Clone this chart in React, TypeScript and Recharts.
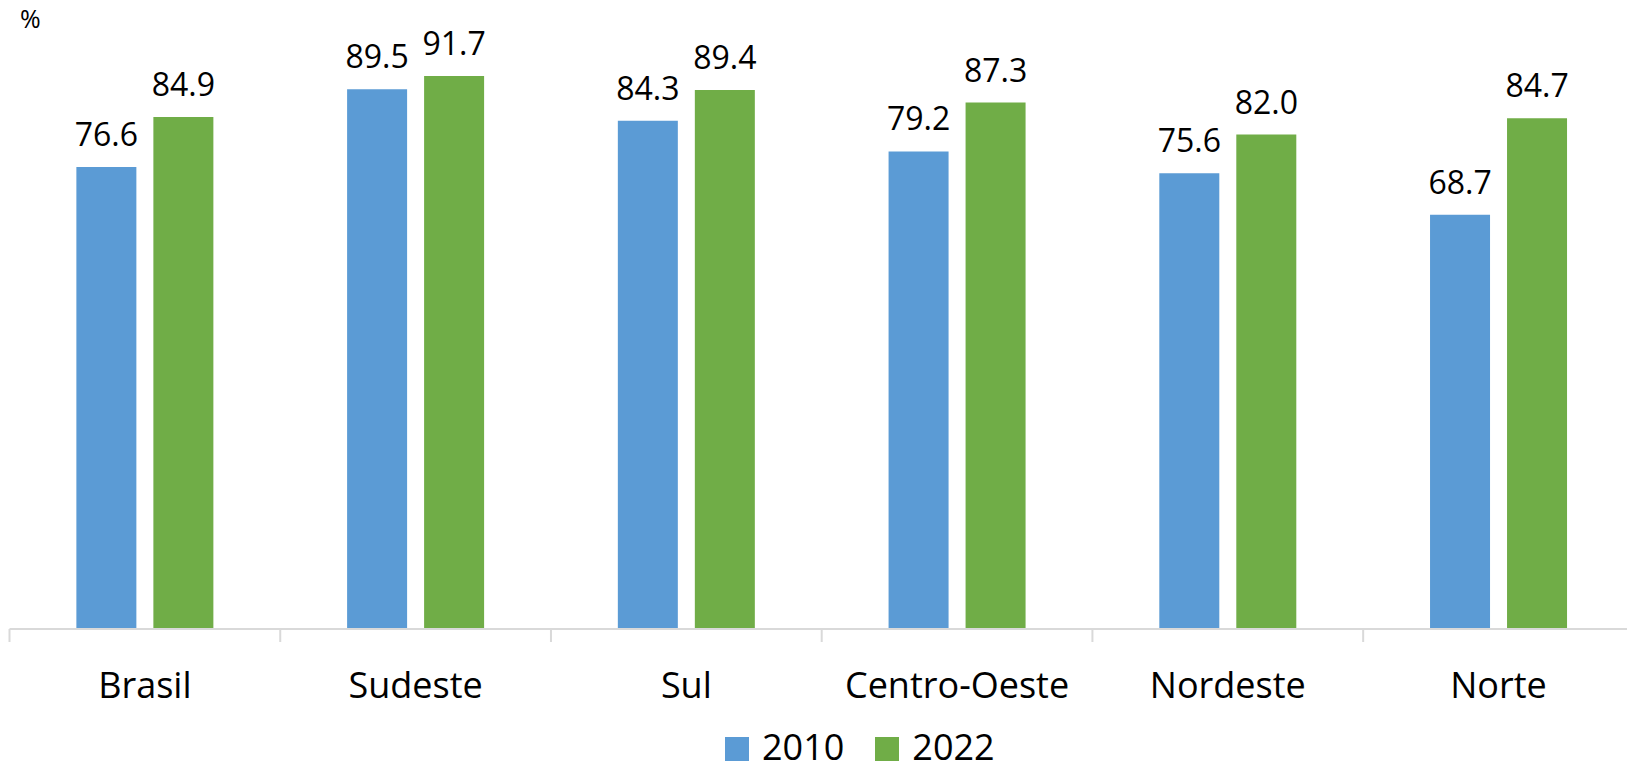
import React from 'react';
import { BarChart, Bar, XAxis, YAxis, LabelList } from 'recharts';

const categories = ['Brasil', 'Sudeste', 'Sul', 'Centro-Oeste', 'Nordeste', 'Norte'];
const values2010 = [76.6, 89.5, 84.3, 79.2, 75.6, 68.7];
const values2022 = [84.9, 91.7, 89.4, 87.3, 82.0, 84.7];
const seriesNames = ['2010', '2022'];
const colors = ['#5B9BD5', '#70AD47'];

const data = categories.map((c, i) => ({ name: c, v2010: values2010[i], v2022: values2022[i] }));

const FONT = '"Open Sans", sans-serif';

const CategoryTick = (props: any) => {
  const { x, y, payload } = props;
  const off = payload && typeof payload.offset === 'number' ? payload.offset : 135.35;
  return (
    <g>
      <line x1={x - off} x2={x - off} y1={y - 8} y2={y + 5} stroke="#D9D9D9" strokeWidth={2} />
      <text x={x} y={y + 61} textAnchor="middle" fontFamily={FONT} fontSize={36} fill="#000">
        {payload.value}
      </text>
    </g>
  );
};

const LegendContent = () => (
  <div style={{ display: 'flex', alignItems: 'flex-start', fontFamily: FONT }}>
    {seriesNames.map((n, i) => (
      <div key={n} style={{ display: 'flex', alignItems: 'flex-start', marginLeft: i === 0 ? 0 : 31 }}>
        <div style={{ width: 24, height: 24, background: colors[i], marginRight: 13, marginTop: 3 }} />
        <span style={{ fontSize: 36, lineHeight: '26px', height: 26, color: '#000', display: 'block' }}>{n}</span>
      </div>
    ))}
  </div>
);

const fmt = (v: any) => Number(v).toFixed(1);

export default function App() {
  return (
    <div style={{ position: 'absolute', left: 0, top: 0, width: 1627, height: 763, overflow: 'hidden', background: '#fff' }}>
      <div style={{ position: 'absolute', left: 20, top: 3, fontFamily: FONT, fontSize: 25, lineHeight: '30px', color: '#000' }}>%</div>
      <BarChart
        width={1645}
        height={763}
        data={data}
        margin={{ top: 26, right: 11.1, left: 9.5, bottom: 0 }}
        barCategoryGap="24.7%"
        barGap={17}
      >
        <XAxis
          dataKey="name"
          height={134}
          axisLine={{ stroke: '#D9D9D9', strokeWidth: 2 }}
          tickLine={false}
          tick={<CategoryTick />}
          interval={0}
        />
        <YAxis hide domain={[0, 100]} width={0} />
        <Bar dataKey="v2010" name={seriesNames[0]} fill={colors[0]} isAnimationActive={false}>
          <LabelList dataKey="v2010" position="top" offset={21} formatter={fmt} style={{ fontFamily: FONT, fontSize: 32, fill: '#000' }} />
        </Bar>
        <Bar dataKey="v2022" name={seriesNames[1]} fill={colors[1]} isAnimationActive={false}>
          <LabelList dataKey="v2022" position="top" offset={21} formatter={fmt} style={{ fontFamily: FONT, fontSize: 32, fill: '#000' }} />
        </Bar>
      </BarChart>
      <div style={{ position: 'absolute', left: 725, top: 734 }}>
        <LegendContent />
      </div>
    </div>
  );
}
